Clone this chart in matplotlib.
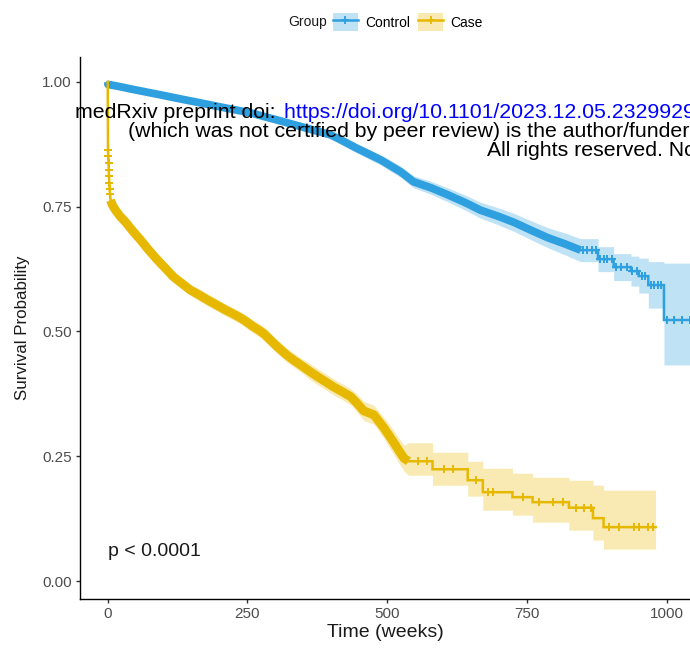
import numpy as np
import matplotlib
matplotlib.use("Agg")
import matplotlib.pyplot as plt
from matplotlib.patches import Patch
from matplotlib.lines import Line2D

plt.rcParams['font.family'] = ['Liberation Sans', 'DejaVu Sans']

# ---------------- data ----------------
groups = ['Control', 'Case']
colors = ['#2E9FDF', '#E7B800']
band_colors = ['#C0E2F5', '#F8EAB2']

ctrl_time = [0, 0.5, 20, 41, 68, 95, 130, 166, 210, 256, 282, 309, 354, 399, 422, 444, 466, 488, 506,
             524, 547, 578, 608, 640, 667, 698, 726, 757, 787, 819, 846, 877, 905, 936, 950, 967, 995, 1060]
ctrl_surv = [1.000, 0.995, 0.991, 0.986, 0.980, 0.974, 0.966, 0.958, 0.948, 0.938, 0.930, 0.922, 0.908,
             0.894, 0.881, 0.868, 0.856, 0.844, 0.832, 0.820, 0.800, 0.788, 0.774, 0.758, 0.743, 0.731,
             0.719, 0.703, 0.688, 0.675, 0.663, 0.645, 0.629, 0.621, 0.611, 0.593, 0.523, 0.523]
ctrl_lower = [1.000, 0.992, 0.987, 0.982, 0.975, 0.969, 0.961, 0.953, 0.943, 0.932, 0.923, 0.915, 0.900,
              0.886, 0.872, 0.859, 0.846, 0.834, 0.821, 0.809, 0.788, 0.775, 0.760, 0.743, 0.727, 0.714,
              0.701, 0.684, 0.668, 0.653, 0.640, 0.620, 0.602, 0.591, 0.577, 0.547, 0.433, 0.433]
ctrl_upper = [1.000, 0.998, 0.995, 0.990, 0.985, 0.979, 0.971, 0.963, 0.953, 0.944, 0.937, 0.929, 0.916,
              0.902, 0.890, 0.877, 0.866, 0.854, 0.843, 0.831, 0.812, 0.801, 0.788, 0.773, 0.759, 0.748,
              0.737, 0.722, 0.708, 0.697, 0.686, 0.670, 0.656, 0.651, 0.647, 0.640, 0.637, 0.637]
# censoring is so dense up to ~846 weeks that the "+" marks merge into a solid band
ctrl_dense_censor = (0, 846)
ctrl_censor = [851, 858, 866, 874, 880, 888, 894, 902, 910, 918, 929, 938, 946, 955, 961, 972, 978,
               985, 990, 1000, 1013, 1027, 1041, 1055]

case_time = [0, 0.5, 0.9, 1.3, 1.8, 2.3, 2.8, 3.4, 4.1, 5, 9, 14, 22, 32, 45, 59, 72, 86, 102, 118,
             133, 148, 164, 179, 195, 211, 225, 238, 250, 260, 270, 280, 290, 300, 310, 320, 332, 345,
             360, 376, 390, 404, 420, 435, 447, 458, 467, 476, 485, 494, 503, 512, 521, 530, 538, 581,
             644, 671, 724, 760, 825, 868, 887, 980]
case_surv = [1.000, 0.864, 0.851, 0.838, 0.824, 0.811, 0.798, 0.786, 0.775, 0.763, 0.752, 0.743, 0.731,
             0.719, 0.701, 0.683, 0.665, 0.647, 0.628, 0.609, 0.596, 0.583, 0.573, 0.563, 0.553, 0.543,
             0.535, 0.527, 0.518, 0.510, 0.503, 0.495, 0.484, 0.473, 0.463, 0.453, 0.443, 0.433, 0.421,
             0.409, 0.399, 0.389, 0.379, 0.369, 0.355, 0.341, 0.337, 0.333, 0.320, 0.307, 0.292, 0.277,
             0.261, 0.246, 0.240, 0.224, 0.202, 0.178, 0.168, 0.158, 0.147, 0.126, 0.108, 0.108]
case_lower = [1.000, 0.855, 0.842, 0.829, 0.815, 0.802, 0.789, 0.777, 0.766, 0.754, 0.743, 0.734, 0.721,
              0.709, 0.691, 0.673, 0.655, 0.637, 0.618, 0.599, 0.585, 0.572, 0.561, 0.551, 0.541, 0.531,
              0.523, 0.515, 0.505, 0.497, 0.490, 0.481, 0.470, 0.459, 0.449, 0.439, 0.429, 0.419, 0.405,
              0.393, 0.383, 0.373, 0.363, 0.353, 0.337, 0.322, 0.318, 0.314, 0.300, 0.286, 0.269, 0.253,
              0.236, 0.220, 0.212, 0.192, 0.170, 0.142, 0.132, 0.118, 0.102, 0.082, 0.064, 0.064]
case_upper = [1.000, 0.873, 0.860, 0.847, 0.833, 0.820, 0.807, 0.795, 0.784, 0.772, 0.761, 0.752, 0.741,
              0.729, 0.711, 0.693, 0.675, 0.657, 0.638, 0.619, 0.607, 0.594, 0.585, 0.575, 0.565, 0.555,
              0.547, 0.539, 0.531, 0.523, 0.516, 0.509, 0.498, 0.487, 0.477, 0.467, 0.457, 0.447, 0.437,
              0.425, 0.415, 0.405, 0.395, 0.385, 0.373, 0.360, 0.356, 0.352, 0.340, 0.328, 0.315, 0.301,
              0.286, 0.272, 0.277, 0.258, 0.240, 0.226, 0.216, 0.208, 0.202, 0.192, 0.182, 0.182]
case_dense_censor = (5, 538)
case_censor = [0.6, 0.9, 1.2, 1.6, 1.9, 2.3, 2.7, 3.1, 3.6, 4.0, 4.6, 555, 572, 601, 617, 658, 680, 690,
               742, 771, 796, 814, 837, 852, 864, 896, 914, 941, 950, 966, 975]

x_ticks = [0, 250, 500, 750, 1000]
y_ticks = [0.00, 0.25, 0.50, 0.75, 1.00]
y_tick_labels = ['0.00', '0.25', '0.50', '0.75', '1.00']
p_label = 'p < 0.0001'


def km_path(t, vals, dense_end):
    """Step path; within the densely censored part the many tiny steps are drawn as a line."""
    xs, ys = [t[0]], [vals[0]]
    for i in range(1, len(t)):
        if t[i] > dense_end:
            xs.append(t[i]); ys.append(vals[i - 1])
        xs.append(t[i]); ys.append(vals[i])
    return np.array(xs, float), np.array(ys, float)


# ---------------- figure ----------------
W, H = 690, 648
fig = plt.figure(figsize=(W / 100, H / 100), dpi=100)
ax = fig.add_axes([80 / W, 49 / H, 610 / W, 542 / H])

series = [
    (ctrl_time, ctrl_surv, ctrl_lower, ctrl_upper, ctrl_censor, ctrl_dense_censor, 5.6),
    (case_time, case_surv, case_lower, case_upper, case_censor, case_dense_censor, 6.4),
]

for (t, s, lo, hi, cen, dense, thick), col, bcol in zip(series, colors, band_colors):
    x, ylo = km_path(t, lo, dense[1])
    _, yhi = km_path(t, hi, dense[1])
    ax.fill_between(x, ylo, yhi, color=bcol, lw=0, zorder=1)

for (t, s, lo, hi, cen, dense, thick), col in zip(series, colors):
    x, y = km_path(t, s, dense[1])
    ax.plot(x, y, color=col, lw=1.8, zorder=3, solid_joinstyle='miter')
    m = (x >= dense[0]) & (x <= dense[1])
    ax.plot(x[m], y[m], color=col, lw=thick, zorder=3, solid_capstyle='butt',
            solid_joinstyle='round')
    t_arr = np.asarray(t, float)
    s_arr = np.asarray(s, float)
    idx = np.searchsorted(t_arr, np.asarray(cen, float), side='right') - 1
    ax.plot(cen, s_arr[idx], ls='none', marker='+', color=col, ms=5.5, mew=1.4, zorder=4)

ax.set_xlim(-49.6, 1041.6)
ax.set_ylim(-0.036, 1.05)
ax.set_xticks(x_ticks)
ax.set_xticklabels([str(v) for v in x_ticks])
ax.set_yticks(y_ticks)
ax.set_yticklabels(y_tick_labels)

for sp in ['top', 'right']:
    ax.spines[sp].set_visible(False)
for sp in ['left', 'bottom']:
    ax.spines[sp].set_color('black')
    ax.spines[sp].set_linewidth(1.0)
ax.tick_params(axis='both', length=3, width=1.0, color='#333333', labelcolor='#4D4D4D',
               labelsize=11, pad=3)

ax.set_xlabel('Time (weeks)', fontsize=14, color='#1A1A1A')
ax.set_ylabel('Survival Probability', fontsize=12.2, color='#1A1A1A')
ax.xaxis.set_label_coords((385 - 80) / 610, (599 - 624) / 542)
ax.yaxis.set_label_coords((30 - 80) / 610, 0.5)

ax.text(0, 0.06, p_label, ha='left', va='center', fontsize=14, color='#1A1A1A')

# legend
handles = [(Patch(facecolor=bc, edgecolor='none'),
            Line2D([], [], color=c, lw=1.8, marker='+', ms=5.5, mew=1.3))
           for c, bc in zip(colors, band_colors)]
fig.legend(handles=handles, labels=groups, ncol=2, loc='center',
           bbox_to_anchor=(408 / W, 1 - 22 / H), frameon=False, fontsize=10,
           handlelength=1.75, handleheight=1.6, handletextpad=0.55, columnspacing=0.6,
           borderaxespad=0, borderpad=0)
fig.text(288 / W, 1 - 22 / H, 'Group', ha='left', va='center', fontsize=10, color='#1A1A1A')

# medRxiv watermark
wm_size = 15.3
fig.text(75 / W, 1 - 118 / H, 'medRxiv preprint doi: ', ha='left', va='baseline',
         fontsize=wm_size, color='black')
fig.text(284 / W, 1 - 118 / H, 'https://doi.org/10.1101/2023.12.05.23299299; this version posted',
         ha='left', va='baseline', fontsize=wm_size, color='#0000FF')
fig.text(128 / W, 1 - 137 / H,
         '(which was not certified by peer review) is the author/funder, who has granted medRxiv',
         ha='left', va='baseline', fontsize=wm_size, color='black')
fig.text(487 / W, 1 - 156 / H, 'All rights reserved. No reuse allowed without permission.',
         ha='left', va='baseline', fontsize=wm_size, color='black')

fig.savefig('out.png', dpi=100)
